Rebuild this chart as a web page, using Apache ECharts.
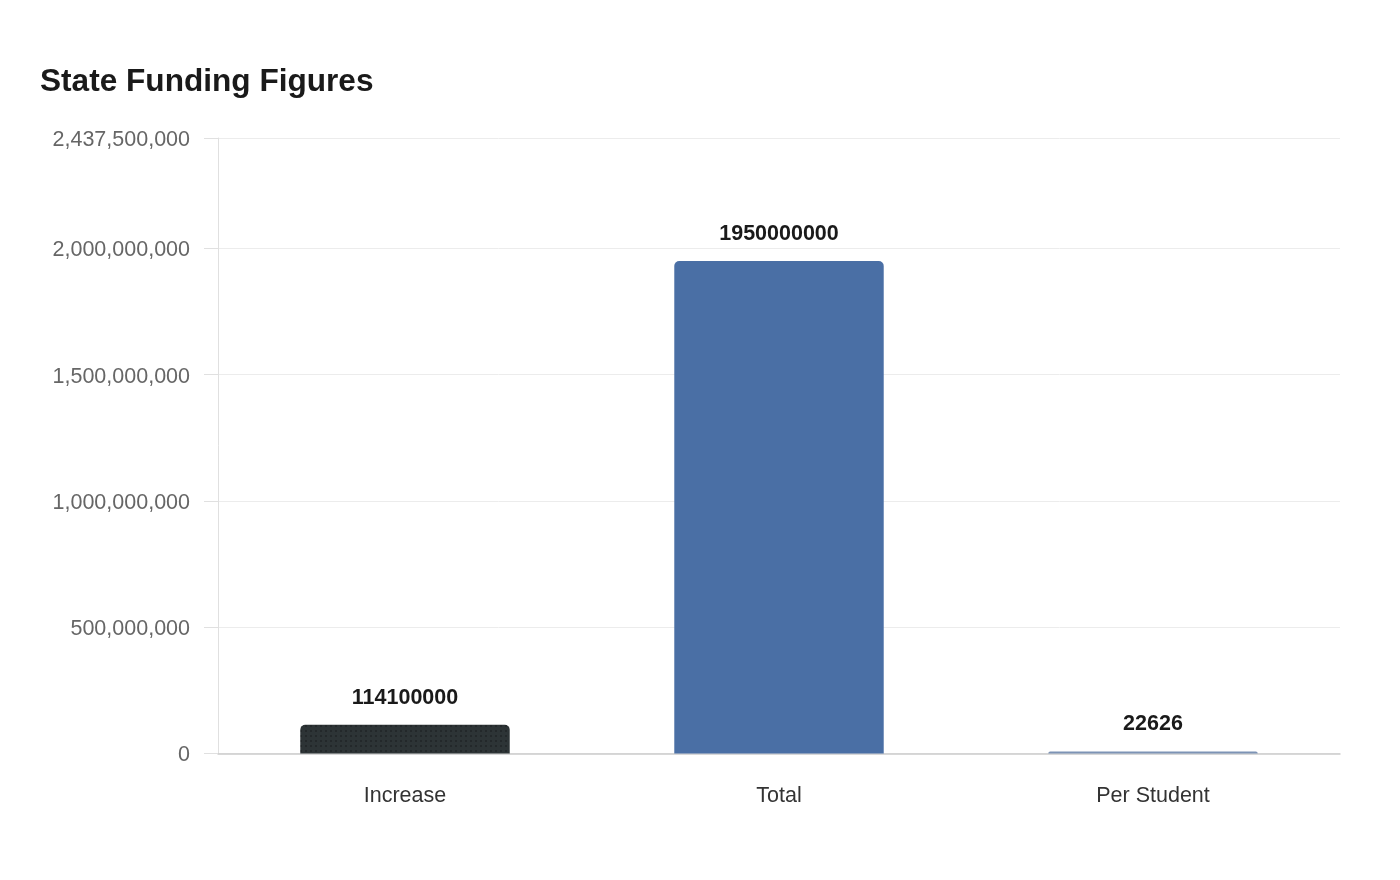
<!DOCTYPE html>
<html>
<head>
<meta charset="utf-8">
<script src="https://cdn.jsdelivr.net/npm/echarts@6/dist/echarts.min.js"></script>
<style>
html,body{margin:0;padding:0;background:#fff;}
#chart{width:1400px;height:880px;}
</style>
</head>
<body>
<div id="chart"></div>
<script>
const categories = ['Increase', 'Total', 'Per Student'];
const values = [114100000, 1950000000, 22626];
const barColors = ['#2d3436', '#4a6fa5', '#7d93b5'];
const yMax = 2437500000;
const yInterval = 500000000;

const chart = echarts.init(document.getElementById('chart'));
const fmt = v => '{v|' + Math.round(v).toString().replace(/\B(?=(\d{3})+(?!\d))/g, ',') + '}';
const FONT = 'Liberation Sans, Arial, sans-serif';

chart.setOption({
  animation: false,
  backgroundColor: '#ffffff',
  title: {
    text: 'State Funding Figures',
    left: 40,
    top: 66,
    padding: 0,
    textStyle: { fontFamily: FONT, fontSize: 31.6, fontWeight: 'bold', color: '#1a1a1a' }
  },
  grid: { left: 218, right: 60, top: 138, bottom: 126.5 },
  xAxis: {
    type: 'category',
    data: categories,
    axisLine: { lineStyle: { color: '#cccccc', width: 1.5 } },
    axisTick: { show: false },
    axisLabel: { margin: 32, fontSize: 21.5, color: '#333333', fontFamily: FONT }
  },
  yAxis: {
    type: 'value',
    min: 0,
    max: yMax,
    interval: yInterval,
    axisLine: { show: true, lineStyle: { color: '#e0e0e0' } },
    axisTick: { show: true, length: 14, lineStyle: { color: '#e0e0e0' } },
    splitLine: { lineStyle: { color: '#ececec' } },
    axisLabel: {
      margin: 28, fontSize: 21.5, color: '#666666', fontFamily: FONT, formatter: fmt,
      rich: { v: { fontSize: 21.5, color: '#666666', fontFamily: FONT, padding: [4, 0, 0, 0] } }
    }
  },
  series: [{
    type: 'bar',
    barWidth: '56%',
    barMinHeight: 2,
    data: values.map((v, i) => ({
      value: v,
      itemStyle: {
        color: barColors[i],
        borderRadius: [5, 5, 0, 0],
        decal: i === 0 ? { symbol: 'circle', symbolSize: 0.8, dashArrayX: [1.5, 3], dashArrayY: [1.5, 3], color: 'rgba(0,0,0,0.5)' } : null
      }
    })),
    label: {
      show: true,
      position: 'top',
      distance: 16,
      fontSize: 21.5,
      fontWeight: 'bold',
      color: '#1a1a1a',
      fontFamily: FONT
    }
  }],
  aria: { enabled: false, decal: { show: true } }
});
</script>
</body>
</html>
